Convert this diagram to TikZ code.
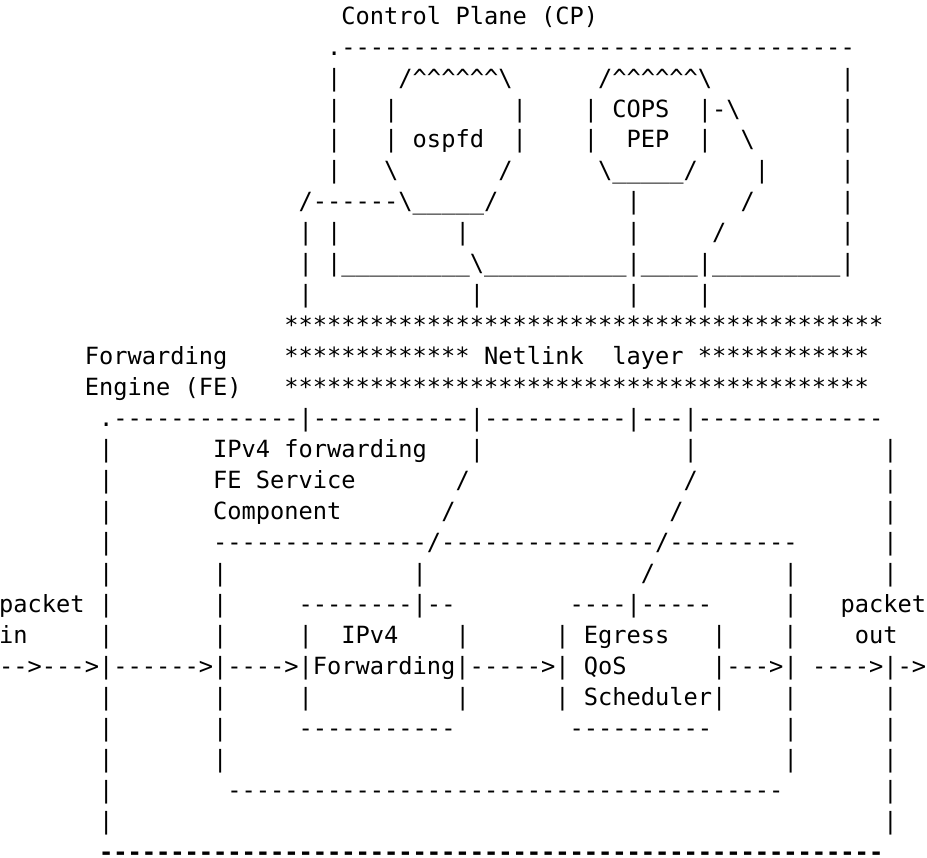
\documentclass[tikz,border=0pt]{standalone}
\usepackage{fontspec}
\setmonofont{DejaVu Sans Mono}
\newlength\asciicw
\setlength\asciicw{14.26bp}
\newcommand\asciifont{\ttfamily\fontsize{23.686bp}{30.96bp}\selectfont\frenchspacing}
\newcommand\skipcols[1]{\hspace*{#1\asciicw}}
\newcommand\many[2]{\foreach\k in {1,...,#1}{#2}}
\newcommand\bsl{\textbackslash}
\newcommand\crt{\textasciicircum}

\begin{document}
\begin{tikzpicture}[
  x=14.26bp, y=-30.96bp,
  textrow/.style={anchor=base west, inner sep=0pt, font=\asciifont},
  boldrow/.style={textrow, font=\asciifont\bfseries}
]
\useasboundingbox (0,0) rectangle (65.007,27.713);
\node[textrow] (cptitle) at (-0.07,0.78) {\skipcols{24}Control Plane (CP)};
\node[textrow] (cptop) at (-0.07,1.78) {\skipcols{23}.\many{36}{-}};
\node[textrow] (cproofs) at (-0.07,2.78) {\skipcols{23}|\skipcols{4}/\many{6}{\crt}\bsl\skipcols{6}/\many{6}{\crt}\bsl\skipcols{9}|};
\node[textrow] (cpcops) at (-0.07,3.78) {\skipcols{23}|\skipcols{3}|\skipcols{8}|\skipcols{4}| COPS\skipcols{2}|-\bsl\skipcols{7}|};
\node[textrow] (cpospfd) at (-0.07,4.78) {\skipcols{23}|\skipcols{3}| ospfd\skipcols{2}|\skipcols{4}|\skipcols{2}PEP\skipcols{2}|\skipcols{2}\bsl\skipcols{6}|};
\node[textrow] (cpfloors) at (-0.07,5.78) {\skipcols{23}|\skipcols{3}\bsl\skipcols{7}/\skipcols{6}\bsl\many{5}{\_}/\skipcols{4}|\skipcols{5}|};
\node[textrow] (cplink) at (-0.07,6.78) {\skipcols{21}/\many{6}{-}\bsl\many{5}{\_}/\skipcols{9}|\skipcols{7}/\skipcols{6}|};
\node[textrow] (cpdrop) at (-0.07,7.78) {\skipcols{21}| |\skipcols{8}|\skipcols{11}|\skipcols{5}/\skipcols{8}|};
\node[textrow] (cpbottom) at (-0.07,8.78) {\skipcols{21}| |\many{9}{\_}\bsl\many{10}{\_}|\many{4}{\_}|\many{9}{\_}|};
\node[textrow] (cpstems) at (-0.07,9.78) {\skipcols{21}|\skipcols{11}|\skipcols{10}|\skipcols{4}|};
\node[textrow] (nlupper) at (-0.07,10.78) {\skipcols{20}\many{42}{*}};
\node[textrow] (nlmiddle) at (-0.07,11.78) {\skipcols{6}Forwarding\skipcols{4}\many{13}{*}\skipcols{1}Netlink\skipcols{2}layer\skipcols{1}\many{12}{*}};
\node[textrow] (nllower) at (-0.07,12.78) {\skipcols{6}Engine (FE)\skipcols{3}\many{41}{*}};
\node[textrow] (fetop) at (-0.07,13.78) {\skipcols{7}.\many{13}{-}|\many{11}{-}|\many{10}{-}|\many{3}{-}|\many{13}{-}};
\node[textrow] (fename) at (-0.07,14.78) {\skipcols{7}|\skipcols{7}IPv4 forwarding\skipcols{3}|\skipcols{14}|\skipcols{13}|};
\node[textrow] (feservice) at (-0.07,15.78) {\skipcols{7}|\skipcols{7}FE Service\skipcols{7}/\skipcols{15}/\skipcols{13}|};
\node[textrow] (fecomponent) at (-0.07,16.78) {\skipcols{7}|\skipcols{7}Component\skipcols{7}/\skipcols{15}/\skipcols{14}|};
\node[textrow] (svctop) at (-0.07,17.78) {\skipcols{7}|\skipcols{7}\many{15}{-}/\many{15}{-}/\many{9}{-}\skipcols{6}|};
\node[textrow] (svcdrop) at (-0.07,18.78) {\skipcols{7}|\skipcols{7}|\skipcols{13}|\skipcols{15}/\skipcols{9}|\skipcols{6}|};
\node[textrow] (blocktops) at (-0.07,19.78) {packet |\skipcols{7}|\skipcols{5}\many{8}{-}|\many{2}{-}\skipcols{8}\many{4}{-}|\many{5}{-}\skipcols{5}|\skipcols{3}packet};
\node[textrow] (blocknames) at (-0.07,20.78) {in\skipcols{5}|\skipcols{7}|\skipcols{5}|\skipcols{2}IPv4\skipcols{4}|\skipcols{6}| Egress\skipcols{3}|\skipcols{4}|\skipcols{4}out};
\node[textrow] (datapath) at (-0.07,21.78) {\many{2}{-}>\many{3}{-}>|\many{6}{-}>|\many{4}{-}>|Forwarding|\many{5}{-}>| QoS\skipcols{6}|\many{3}{-}>| \many{4}{-}>|->};
\node[textrow] (blocksched) at (-0.07,22.78) {\skipcols{7}|\skipcols{7}|\skipcols{5}|\skipcols{10}|\skipcols{6}| Scheduler|\skipcols{4}|\skipcols{6}|};
\node[textrow] (blockbottoms) at (-0.07,23.78) {\skipcols{7}|\skipcols{7}|\skipcols{5}\many{11}{-}\skipcols{8}\many{10}{-}\skipcols{5}|\skipcols{6}|};
\node[textrow] (svcgap) at (-0.07,24.78) {\skipcols{7}|\skipcols{7}|\skipcols{39}|\skipcols{6}|};
\node[textrow] (svcbottom) at (-0.07,25.78) {\skipcols{7}|\skipcols{8}\many{39}{-}\skipcols{7}|};
\node[textrow] (fegap) at (-0.07,26.78) {\skipcols{7}|\skipcols{54}|};
\node[boldrow] (febottom) at (-0.07,27.78) {\skipcols{7}\many{55}{-}};
\end{tikzpicture}
\end{document}
